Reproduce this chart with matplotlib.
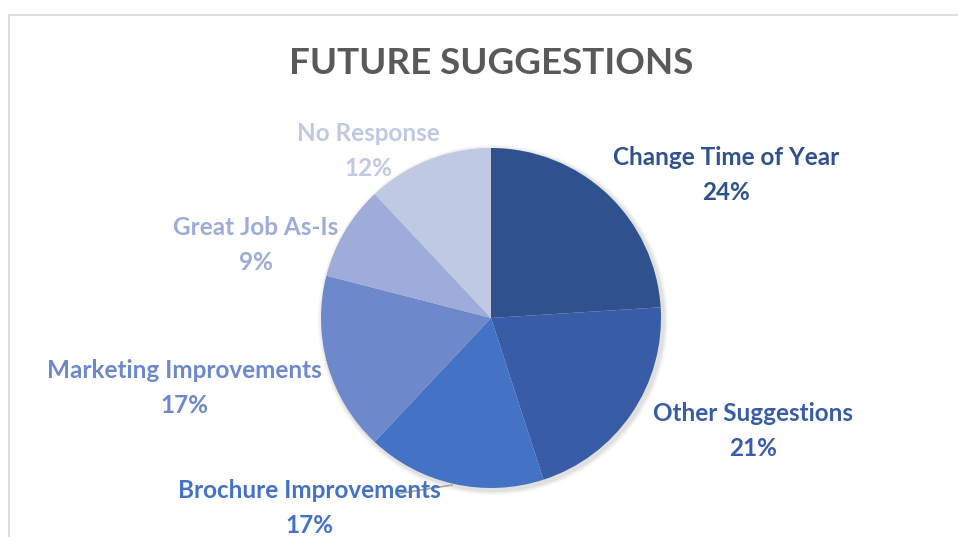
import matplotlib.pyplot as plt
import matplotlib.patches as mpatches

categories = ["Change Time of Year", "Other Suggestions", "Brochure Improvements",
              "Marketing Improvements", "Great Job As-Is", "No Response"]
values = [24, 21, 17, 17, 9, 12]
colors = ["#2F528F", "#385DA6", "#4472C4", "#6D89CC", "#9DACD8", "#BFC9E4"]

# label centres in pixels (x, y from top)
label_pos = [(726, 175), (753, 431), (309, 508), (184, 388), (256, 245), (368, 151)]

W, H = 958, 537
fig = plt.figure(figsize=(W / 100, H / 100), dpi=100)
ax = fig.add_axes([0, 0, 1, 1])

# chart area border (open to the right and bottom)
ax.plot([9.5, 9.5, W + 5], [-5, H - 14.5, H - 14.5], color="#D9D9D9", lw=1.3)

cx, cy, r = 491, H - 318, 170

# soft shadow under the pie
for i, a in enumerate([0.05, 0.04, 0.03]):
    ax.add_patch(mpatches.Circle((cx + 2, cy - 2), r + 2 + i * 1.5, color="black",
                                 alpha=a, lw=0, zorder=1))

wedges, _ = ax.pie(values, colors=colors, startangle=90, counterclock=False,
                   center=(cx, cy), radius=r, frame=True,
                   wedgeprops=dict(linewidth=0, zorder=2))
ax.set_xlim(0, W)
ax.set_ylim(0, H)
ax.set_aspect("equal")
ax.axis("off")

# leader line for the brochure label
ax.plot([452, 396], [H - 485, H - 494], color="#A6A6A6", lw=1.2, zorder=3)

total = sum(values)
for name, v, c, (lx, ly) in zip(categories, values, colors, label_pos):
    ax.text(lx, H - ly, f"{name}\n{round(100 * v / total)}%", color=c,
            fontsize=17.5, fontweight="bold", family="Lato",
            ha="center", va="center", linespacing=1.58, zorder=4)

ax.text(491, H - 63, "FUTURE SUGGESTIONS", color="#595959", fontsize=26.5,
        fontweight="bold", family="Lato", ha="center", va="center")

fig.savefig("out.png", dpi=100, facecolor="white")
